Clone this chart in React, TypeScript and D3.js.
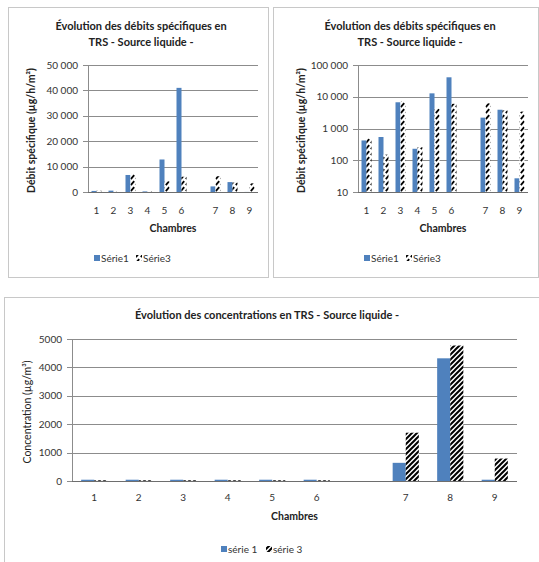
import React from "react";
import * as d3 from "d3";

// chambres (one empty slot between 6 and 7, as in the original sheet)
const slots = ["1", "2", "3", "4", "5", "6", "", "7", "8", "9"];
const seriesKeys = ["s1", "s3"];

// débits spécifiques (µg/h/m²)
const debitSerie1 = [420, 540, 6700, 230, 12800, 41000, null, 2200, 3900, 27];
const debitSerie3 = [490, 150, 7100, 255, 4200, 6000, null, 6200, 3700, 3400];

// concentrations (µg/m³)
const concSerie1 = [45, 45, 45, 45, 45, 45, null, 640, 4320, 45];
const concSerie3 = [25, 25, 25, 25, 25, 25, null, 1700, 4770, 790];

const linearTicks = [0, 10000, 20000, 30000, 40000, 50000];
const logTicks = [10, 100, 1000, 10000, 100000];
const concTicks = [0, 1000, 2000, 3000, 4000, 5000];

const BLUE = "#4F81BD";
const GRID = "#8c8c8c";
const FONT = "Lato, 'Open Sans', sans-serif";

const frLocale = d3.formatLocale({ decimal: ",", thousands: " ", grouping: [3], currency: ["", " €"] });
const fmtSpaced = frLocale.format(",d");
const fmtPlain = d3.format("d");

type PanelProps = {
  frame: [number, number, number, number];
  x0: number; x1: number; y0: number; y1: number;
  y: any;
  ticks: number[];
  fmt: (v: number) => string;
  title: string[];
  titleX: number;
  titleY: number;
  yTitle: string;
  yTitleX: number;
  yTitleBold: boolean;
  xLabelY: number;
  axisTitleY: number;
  legendY: number;
  legendX: number;
  legendNames: string[];
  legendGap: number;
  s1: (number | null)[];
  s3: (number | null)[];
  hatch: string;
  base: number;
};

function Panel(p: PanelProps) {
  const x = d3.scaleBand().domain(slots).range([p.x0, p.x1]);
  const xs = d3.scaleBand().domain(seriesKeys).range([0, x.bandwidth()]).paddingOuter(0.7);
  const [fx0, fy0, fx1, fy1] = p.frame;
  return (
    <g>
      <rect x={fx0 + 0.5} y={fy0 + 0.5} width={fx1 - fx0} height={fy1 - fy0} fill="#fff" stroke="#c8c8c8" />
      {p.title.map((t, i) => (
        <text key={i} x={p.titleX} y={p.titleY + i * 16} textAnchor="middle" fontWeight="bold" fontSize={11} fill="#222">{t}</text>
      ))}
      {p.ticks.map((t) => (
        <g key={t}>
          <line x1={p.x0 - 5} x2={p.x1} y1={Math.round(p.y(t)) + 0.5} y2={Math.round(p.y(t)) + 0.5} stroke={GRID} />
          <text x={p.x0 - 10} y={p.y(t) + 3.5} textAnchor="end" fontSize={10} fill="#333">{p.fmt(t)}</text>
        </g>
      ))}
      <line x1={p.x0 + 0.5} x2={p.x0 + 0.5} y1={p.y0} y2={p.y1} stroke={GRID} />
      {slots.map((s, i) => {
        const cx = (x(s) as number);
        const v1 = p.s1[i];
        const v3 = p.s3[i];
        return (
          <g key={i}>
            {v1 != null && (
              <rect x={cx + (xs("s1") as number)} y={p.y(v1)} width={xs.bandwidth()} height={p.base - p.y(v1)} fill={BLUE} />
            )}
            {v3 != null && (
              <rect x={cx + (xs("s3") as number)} y={p.y(v3)} width={xs.bandwidth()} height={p.base - p.y(v3)} fill={`url(#${p.hatch})`} />
            )}
            <text x={cx + x.bandwidth() / 2} y={p.xLabelY} textAnchor="middle" fontSize={10} fill="#333">{s}</text>
          </g>
        );
      })}
      <line x1={p.x0} x2={p.x1} y1={Math.round(p.base) + 0.5} y2={Math.round(p.base) + 0.5} stroke="#6e6e6e" />
      <text x={(p.x0 + p.x1) / 2} y={p.axisTitleY} textAnchor="middle" fontWeight="bold" fontSize={10.5} fill="#222">Chambres</text>
      <text transform={`translate(${p.yTitleX},${(p.y0 + p.y1) / 2 + 2}) rotate(-90)`} textAnchor="middle"
        fontWeight={p.yTitleBold ? "bold" : "normal"} fontSize={10.5} fill="#222">{p.yTitle}</text>
      <rect x={p.legendX} y={p.legendY - 7} width={6} height={6} fill={BLUE} />
      <text x={p.legendX + 7} y={p.legendY} fontSize={10} fill="#333">{p.legendNames[0]}</text>
      <rect x={p.legendX + p.legendGap} y={p.legendY - 7} width={6} height={6} fill={`url(#${p.hatch})`} />
      <text x={p.legendX + p.legendGap + 7} y={p.legendY} fontSize={10} fill="#333">{p.legendNames[1]}</text>
    </g>
  );
}

export default function App() {
  const yLin = d3.scaleLinear().domain([0, 50000]).range([192, 65]);
  const yLog = d3.scaleLog().domain([10, 100000]).range([192, 65]);
  const yConc = d3.scaleLinear().domain([0, 5000]).range([481, 339]);
  const title = ["Évolution des débits spécifiques en", "TRS - Source liquide -"];
  return (
    <svg width={539} height={562} style={{ position: "absolute", left: 0, top: 0, fontFamily: FONT }}>
      <defs>
        <pattern id="dash" width={5} height={6} patternUnits="userSpaceOnUse">
          <rect width={5} height={6} fill="#fff" />
          <line x1={0.8} y1={5.2} x2={4.2} y2={1.2} stroke="#000" strokeWidth={1.8} />
        </pattern>
        <pattern id="stripe" width={5} height={5} patternUnits="userSpaceOnUse">
          <rect width={5} height={5} fill="#fff" />
          <path d="M-1,1 l2,-2 M0,5 l5,-5 M4,6 l2,-2" stroke="#000" strokeWidth={2} />
        </pattern>
      </defs>
      <rect width={539} height={562} fill="#fff" />
      <Panel frame={[8, 7, 268, 277]} x0={88} x1={258} y0={65} y1={192} y={yLin} ticks={linearTicks} fmt={fmtSpaced}
        title={title} titleX={141} titleY={30} yTitle="Débit spécifique (µg/h/m²)" yTitleX={35} yTitleBold={true}
        xLabelY={214} axisTitleY={232} legendY={262} legendX={94} legendNames={["Série1", "Série3"]} legendGap={42}
        s1={debitSerie1} s3={debitSerie3} hatch="dash" base={192} />
      <Panel frame={[273, 7, 538, 277]} x0={358} x1={528} y0={65} y1={192} y={yLog} ticks={logTicks} fmt={fmtSpaced}
        title={title} titleX={410} titleY={30} yTitle="Débit spécifique (µg/h/m²)" yTitleX={305} yTitleBold={true}
        xLabelY={214} axisTitleY={232} legendY={262} legendX={364} legendNames={["Série1", "Série3"]} legendGap={42}
        s1={debitSerie1} s3={debitSerie3} hatch="dash" base={192} />
      <Panel frame={[4, 297, 545, 570]} x0={72} x1={517} y0={339} y1={481} y={yConc} ticks={concTicks} fmt={fmtPlain}
        title={["Évolution des concentrations en TRS - Source liquide -"]} titleX={267} titleY={319}
        yTitle="Concentration (µg/m³)" yTitleX={31} yTitleBold={false}
        xLabelY={501} axisTitleY={520} legendY={553} legendX={221} legendNames={["série 1", "série 3"]} legendGap={45}
        s1={concSerie1} s3={concSerie3} hatch="stripe" base={481} />
    </svg>
  );
}
